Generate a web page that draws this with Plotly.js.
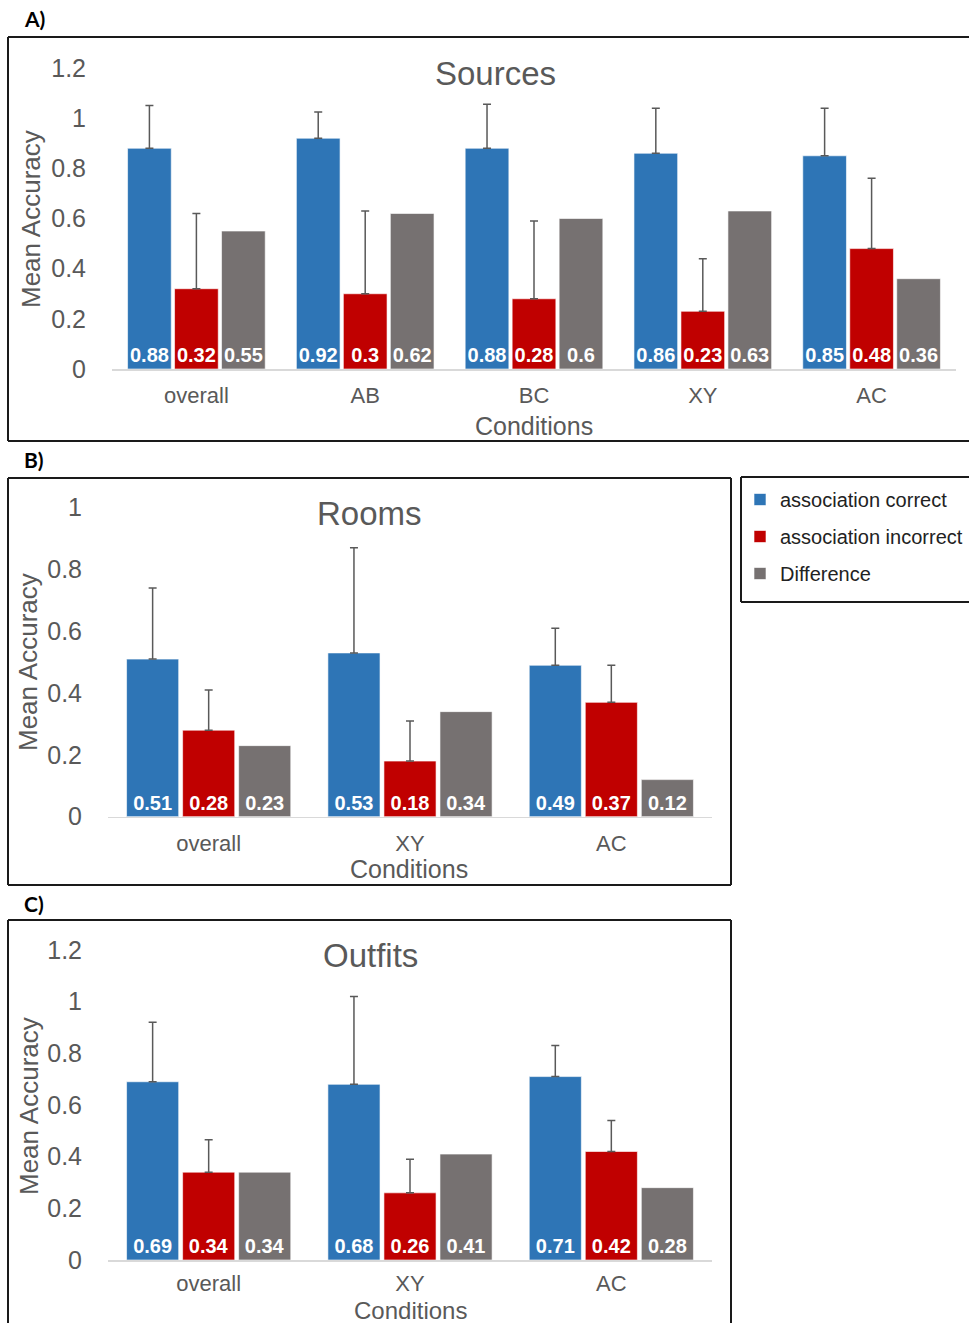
<!DOCTYPE html>
<html>
<head>
<meta charset="utf-8">
<script src="https://cdn.plot.ly/plotly-3.0.1.min.js"></script>
<style>
html,body{margin:0;padding:0;background:#fff;}
#chart{width:969px;height:1323px;}
</style>
</head>
<body>
<div id="chart"></div>
<script>
// ---------- data ----------
const seriesNames = ['association correct', 'association incorrect', 'Difference'];

const sourcesCategories = ['overall', 'AB', 'BC', 'XY', 'AC'];
const sourcesCorrect = [0.88, 0.92, 0.88, 0.86, 0.85];
const sourcesIncorrect = [0.32, 0.30, 0.28, 0.23, 0.48];
const sourcesDifference = [0.55, 0.62, 0.60, 0.63, 0.36];
const sourcesCorrectErr = [0.17, 0.105, 0.175, 0.18, 0.19];
const sourcesIncorrectErr = [0.30, 0.33, 0.31, 0.21, 0.28];

const roomsCategories = ['overall', 'XY', 'AC'];
const roomsCorrect = [0.51, 0.53, 0.49];
const roomsIncorrect = [0.28, 0.18, 0.37];
const roomsDifference = [0.23, 0.34, 0.12];
const roomsCorrectErr = [0.23, 0.34, 0.12];
const roomsIncorrectErr = [0.13, 0.13, 0.12];

const outfitsCategories = ['overall', 'XY', 'AC'];
const outfitsCorrect = [0.69, 0.68, 0.71];
const outfitsIncorrect = [0.34, 0.26, 0.42];
const outfitsDifference = [0.34, 0.41, 0.28];
const outfitsCorrectErr = [0.23, 0.34, 0.12];
const outfitsIncorrectErr = [0.125, 0.13, 0.12];

const yTicksA = [0, 0.2, 0.4, 0.6, 0.8, 1, 1.2];
const yTicksB = [0, 0.2, 0.4, 0.6, 0.8, 1];

// ---------- styling ----------
const W = 969, H = 1323;
const px = v => v / W;
const py = v => 1 - v / H;
const FONT = 'Liberation Sans, Arial, sans-serif';
const GREY = '#595959';
const colors = ['#2E75B6', '#C00000', '#767171'];

function barTrace(xcats, vals, errs, idx, xa, ya, showLegend) {
  const t = {
    type: 'bar',
    x: xcats,
    y: vals,
    name: seriesNames[idx],
    legendgroup: 'g' + idx,
    showlegend: showLegend,
    xaxis: xa, yaxis: ya,
    marker: {color: colors[idx], line: {color: 'rgba(255,255,255,0.6)', width: 1}},
    text: vals.map(v => String(v)),
    textposition: 'inside',
    insidetextanchor: 'start',
    constraintext: 'none',
    textangle: 0,
    textfont: {family: FONT, size: 20, color: '#ffffff', weight: 'bold'},
    hoverinfo: 'skip'
  };
  if (errs) {
    t.error_y = {type: 'data', symmetric: false, array: errs, arrayminus: errs.map(() => 0),
                 color: GREY, thickness: 1.5, width: 4};
  }
  return t;
}

const data = [
  barTrace(sourcesCategories, sourcesCorrect, sourcesCorrectErr, 0, 'x', 'y', true),
  barTrace(sourcesCategories, sourcesIncorrect, sourcesIncorrectErr, 1, 'x', 'y', true),
  barTrace(sourcesCategories, sourcesDifference, null, 2, 'x', 'y', true),
  barTrace(roomsCategories, roomsCorrect, roomsCorrectErr, 0, 'x2', 'y2', false),
  barTrace(roomsCategories, roomsIncorrect, roomsIncorrectErr, 1, 'x2', 'y2', false),
  barTrace(roomsCategories, roomsDifference, null, 2, 'x2', 'y2', false),
  barTrace(outfitsCategories, outfitsCorrect, outfitsCorrectErr, 0, 'x3', 'y3', false),
  barTrace(outfitsCategories, outfitsIncorrect, outfitsIncorrectErr, 1, 'x3', 'y3', false),
  barTrace(outfitsCategories, outfitsDifference, null, 2, 'x3', 'y3', false)
];

function xAxis(domain, anchor, tlen) {
  return {domain: domain, anchor: anchor, type: 'category', showline: true, linecolor: '#d9d9d9',
          linewidth: 1.5, showgrid: false, zeroline: false, ticks: 'outside', ticklen: tlen,
          tickcolor: 'rgba(0,0,0,0)', tickfont: {family: FONT, size: 22, color: GREY}, fixedrange: true};
}
function yAxis(domain, anchor, range, ticks) {
  return {domain: domain, anchor: anchor, range: range, tickmode: 'array', tickvals: ticks,
          ticktext: ticks.map(v => String(v)), showline: false, showgrid: false, zeroline: false,
          ticks: 'outside', ticklen: 20, tickcolor: 'rgba(0,0,0,0)',
          tickfont: {family: FONT, size: 25, color: GREY}, fixedrange: true};
}

function label(text, x, y, size, opts) {
  return Object.assign({text: text, xref: 'paper', yref: 'paper', x: px(x), y: py(y),
    xanchor: 'center', yanchor: 'middle', showarrow: false,
    font: {family: FONT, size: size, color: GREY}}, opts || {});
}

const panelFont = {family: 'Lato, sans-serif', size: 21, color: '#000', weight: 'bold'};
const annotations = [
  label('A)', 22, 18, 21, {xanchor: 'left', font: panelFont}),
  label('B)', 22, 460, 21, {xanchor: 'left', font: panelFont}),
  label('C)', 22, 903, 21, {xanchor: 'left', font: panelFont}),
  label('Sources', 495, 73, 33),
  label('Rooms', 369, 513, 33),
  label('Outfits', 370, 955, 33),
  label('Mean Accuracy', 31, 219, 26, {textangle: -90}),
  label('Mean Accuracy', 28, 662, 26, {textangle: -90}),
  label('Mean Accuracy', 29, 1106, 26, {textangle: -90}),
  label('Conditions', 534, 426, 25),
  label('Conditions', 409, 869, 25),
  label('Conditions', 410, 1310, 24)
];

function line(x0, y0, x1, y1) {
  return {type: 'line', xref: 'paper', yref: 'paper', x0: px(x0), y0: py(y0), x1: px(x1), y1: py(y1),
          line: {color: '#1a1a1a', width: 2}};
}
const shapes = [
  // panel A box (right edge off-page)
  line(8, 37, 975, 37), line(8, 37, 8, 441), line(8, 441, 975, 441),
  // panel B box
  line(8, 478, 731, 478), line(8, 478, 8, 885), line(8, 885, 731, 885), line(731, 478, 731, 885),
  // panel C box (bottom off-page)
  line(8, 920, 731, 920), line(8, 920, 8, 1330), line(731, 920, 731, 1330),
  // legend box
  line(741, 477, 975, 477), line(741, 477, 741, 602), line(741, 602, 975, 602)
];

const layout = {
  width: W, height: H,
  margin: {l: 0, r: 0, t: 0, b: 0},
  paper_bgcolor: '#ffffff', plot_bgcolor: '#ffffff',
  barmode: 'group', bargap: 0.165, bargroupgap: 0.07,
  font: {family: FONT, color: GREY},
  xaxis: xAxis([px(112), px(956)], 'y', 6),
  yaxis: yAxis([py(369), py(68)], 'x', [0, 1.2], yTicksA),
  xaxis2: xAxis([px(108), px(712)], 'y2', 6),
  yaxis2: yAxis([py(816.7), py(507.7)], 'x2', [0, 1], yTicksB),
  xaxis3: xAxis([px(108), px(712)], 'y3', 3),
  yaxis3: yAxis([py(1260), py(950)], 'x3', [0, 1.2], yTicksA),
  showlegend: true,
  legend: {x: px(740), y: py(480), xanchor: 'left', yanchor: 'top', orientation: 'v',
           traceorder: 'grouped', tracegroupgap: 8, bgcolor: 'rgba(0,0,0,0)',
           font: {family: FONT, size: 20, color: '#222'}, itemwidth: 30},
  annotations: annotations,
  shapes: shapes
};

Plotly.newPlot('chart', data, layout, {displayModeBar: false, staticPlot: true});
</script>
</body>
</html>
